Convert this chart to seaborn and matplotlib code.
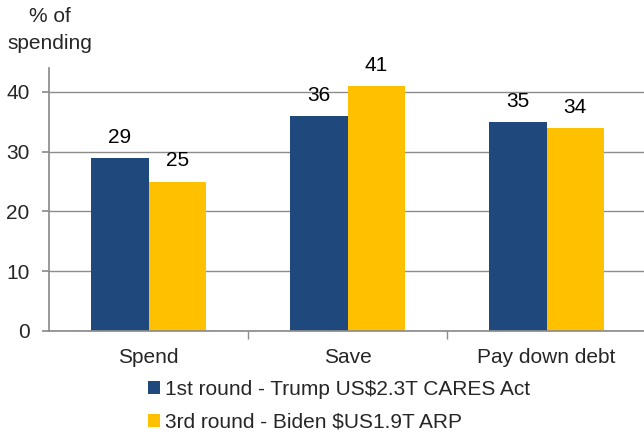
import pandas as pd
import matplotlib.pyplot as plt
import seaborn as sns

categories = ["Spend", "Save", "Pay down debt"]
series_names = ["1st round - Trump US$2.3T CARES Act", "3rd round - Biden $US1.9T ARP"]
round1_values = [29, 36, 35]
round3_values = [25, 41, 34]
colors = ["#1F497D", "#FFC000"]

df = pd.DataFrame({
    "Category": categories * 2,
    "Series": [series_names[0]] * 3 + [series_names[1]] * 3,
    "Value": round1_values + round3_values,
})

sns.set_theme(style="white")
plt.rcParams["font.family"] = ["Liberation Sans", "DejaVu Sans"]
FS = 15

fig = plt.figure(figsize=(6.44, 4.34), dpi=100)
ax = fig.add_axes([49 / 644, 1 - 331 / 434, 597 / 644, (331 - 68) / 434])

sns.barplot(data=df, x="Category", y="Value", hue="Series", palette=colors,
            width=0.575, saturation=1, linewidth=0, ax=ax, legend=True)

for cont in ax.containers:
    ax.bar_label(cont, padding=8, fontsize=FS, color="black")

ax.set_xlim(-0.5, 2.5)
ax.set_ylim(0, 44)
ax.set_yticks([0, 10, 20, 30, 40])
ax.yaxis.grid(True, color="#8C8C8C", linewidth=1)
ax.set_axisbelow(True)
for side in ["top", "right"]:
    ax.spines[side].set_visible(False)
for side in ["left", "bottom"]:
    ax.spines[side].set_color("#8C8C8C")
ax.tick_params(axis="y", left=True, length=5, color="#8C8C8C", labelsize=FS, pad=9)
ax.tick_params(axis="x", bottom=False, labelsize=FS, pad=6)
# category separator ticks
ax.set_xticks([0.5, 1.5], minor=True)
ax.tick_params(axis="x", which="minor", bottom=True, length=6, color="#8C8C8C")
ax.set_xlabel("")
ax.set_ylabel("")

fig.text(50 / 644, 1 - 30 / 434, "% of\nspending", ha="center", va="center",
         fontsize=FS, linespacing=1.5)

handles, labels = ax.get_legend_handles_labels()
ax.legend(handles, labels, loc="upper left", bbox_to_anchor=(148 / 644, 1 - 380 / 434),
          bbox_transform=fig.transFigure, frameon=False, fontsize=FS,
          handlelength=0.58, handleheight=0.58, handletextpad=0.25, labelspacing=0.66,
          borderpad=0, borderaxespad=0)

fig.savefig("out.png", dpi=100)
